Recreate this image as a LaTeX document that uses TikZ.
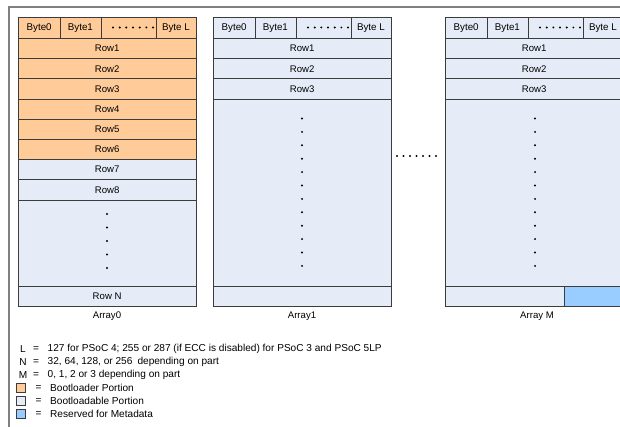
\documentclass[tikz,border=0pt]{standalone}
\usepackage{fontspec}
\setmainfont{Liberation Sans}
\definecolor{boot}{HTML}{FFCC99}
\definecolor{app}{HTML}{E6ECF7}
\definecolor{meta}{HTML}{99CCFF}
\definecolor{edge}{HTML}{3C3C3C}
\definecolor{framecol}{HTML}{808080}
\newcommand\memhdr[3]{%
  \node[cell, hdrfont, fill=#3, minimum width=41.5pt] (#1b0) at (#2,17) {Byte0};
  \node[cell, hdrfont, fill=#3, minimum width=41pt] (#1b1) at (#2+41.5,17) {Byte1};
  \node[cell, hdrfont, fill=#3, minimum width=55pt] (#1bd) at (#2+82.5,17) {};
  \node[cell, hdrfont, fill=#3, minimum width=40pt] (#1bl) at (#2+137.5,17) {Byte L};
  \foreach \k in {0,...,6} \fill (#2+95+6.67*\k,27.5) circle (1.1pt);
}
\begin{document}
\begin{tikzpicture}[x=1pt,y=-1pt,
  cell/.style={draw=edge, line width=0.8pt, inner sep=0pt, anchor=north west,
    minimum height=20.2pt, font=\fontsize{9.6}{10}\selectfont, text=black},
  hdrfont/.style={minimum height=21pt, font=\fontsize{9.8}{10}\selectfont},
  lbl/.style={font=\fontsize{9.6}{10}\selectfont, inner sep=0pt},
  leg/.style={font=\fontsize{10.1}{11}\selectfont, inner sep=0pt},
  legbox/.style={draw=edge, line width=0.7pt, minimum width=9pt, minimum height=9pt, inner sep=0pt}]
\useasboundingbox (0,0) rectangle (620,427);
\fill[white] (0,0) rectangle (620,427);
% outer frame
\draw[framecol, line width=1.5pt] (9,432) -- (9,7) -- (630,7);

% ---------- Array0 ----------
\memhdr{a0}{18}{boot}
\foreach \i in {1,...,6}
  \node[cell, fill=boot, minimum width=177.5pt] (a0r\i) at (18,38+20.2*\i-20.2) {Row\i};
\foreach \i in {7,8}
  \node[cell, fill=app, minimum width=177.5pt] (a0r\i) at (18,38+20.2*\i-20.2) {Row\i};
\node[cell, fill=app, minimum width=177.5pt, minimum height=86.4pt] (a0mid) at (18,199.6) {};
\node[cell, fill=app, minimum width=177.5pt, minimum height=20pt] (a0rn) at (18,286) {Row N};
\foreach \k in {0,...,4} \fill (107,214+13.5*\k) circle (1.1pt);
\node[lbl] (lab0) at (107,316) {Array0};

% ---------- Array1 ----------
\memhdr{a1}{213}{app}
\foreach \i in {1,...,3}
  \node[cell, fill=app, minimum width=177.5pt] (a1r\i) at (213,38+20.2*\i-20.2) {Row\i};
\node[cell, fill=app, minimum width=177.5pt, minimum height=187.4pt] (a1mid) at (213,98.6) {};
\node[cell, fill=app, minimum width=177.5pt, minimum height=20pt] (a1rn) at (213,286) {};
\foreach \k in {0,...,11} \fill (302,118.5+13.4*\k) circle (1.1pt);
\node[lbl] (lab1) at (302,316) {Array1};

% ---------- between arrays ----------
\foreach \k in {0,...,6} \fill (397+6.5*\k,156) circle (1.1pt);

% ---------- Array M ----------
\memhdr{am}{445}{app}
\foreach \i in {1,...,3}
  \node[cell, fill=app, minimum width=177.5pt] (amr\i) at (445,38+20.2*\i-20.2) {Row\i};
\node[cell, fill=app, minimum width=177.5pt, minimum height=187.4pt] (ammid) at (445,98.6) {};
\node[cell, fill=app, minimum width=119pt, minimum height=20pt] (amrn) at (445,286) {};
\node[cell, fill=meta, minimum width=58.5pt, minimum height=20pt] (ammeta) at (564,286) {};
\foreach \k in {0,...,11} \fill (535,118.5+13.4*\k) circle (1.1pt);
\node[lbl] (labm) at (537,316) {Array M};

% ---------- legend ----------
\node[leg] (kL) at (23,349) {L};
\node[leg] (eL) at (36,349) {=};
\node[leg, anchor=west] (tL) at (47.5,349) {127 for PSoC 4; 255 or 287 (if ECC is disabled) for PSoC 3 and PSoC 5LP};
\node[leg] (kN) at (23,362) {N};
\node[leg] (eN) at (36,362) {=};
\node[leg, anchor=west] (tN) at (47.5,362) {32, 64, 128, or 256\enspace depending on part};
\node[leg] (kM) at (23,375) {M};
\node[leg] (eM) at (36,375) {=};
\node[leg, anchor=west] (tM) at (47.5,375) {0, 1, 2 or 3 depending on part};
\node[legbox, fill=boot] (kB) at (20.5,388) {};
\node[leg] (eB) at (38.5,388) {=};
\node[leg, anchor=west] (tB) at (50,388) {Bootloader Portion};
\node[legbox, fill=app] (kA) at (20.5,401) {};
\node[leg] (eA) at (38.5,401) {=};
\node[leg, anchor=west] (tA) at (50,401) {Bootloadable Portion};
\node[legbox, fill=meta] (kR) at (20.5,414) {};
\node[leg] (eR) at (38.5,414) {=};
\node[leg, anchor=west] (tR) at (50,414) {Reserved for Metadata};
\end{tikzpicture}
\end{document}
